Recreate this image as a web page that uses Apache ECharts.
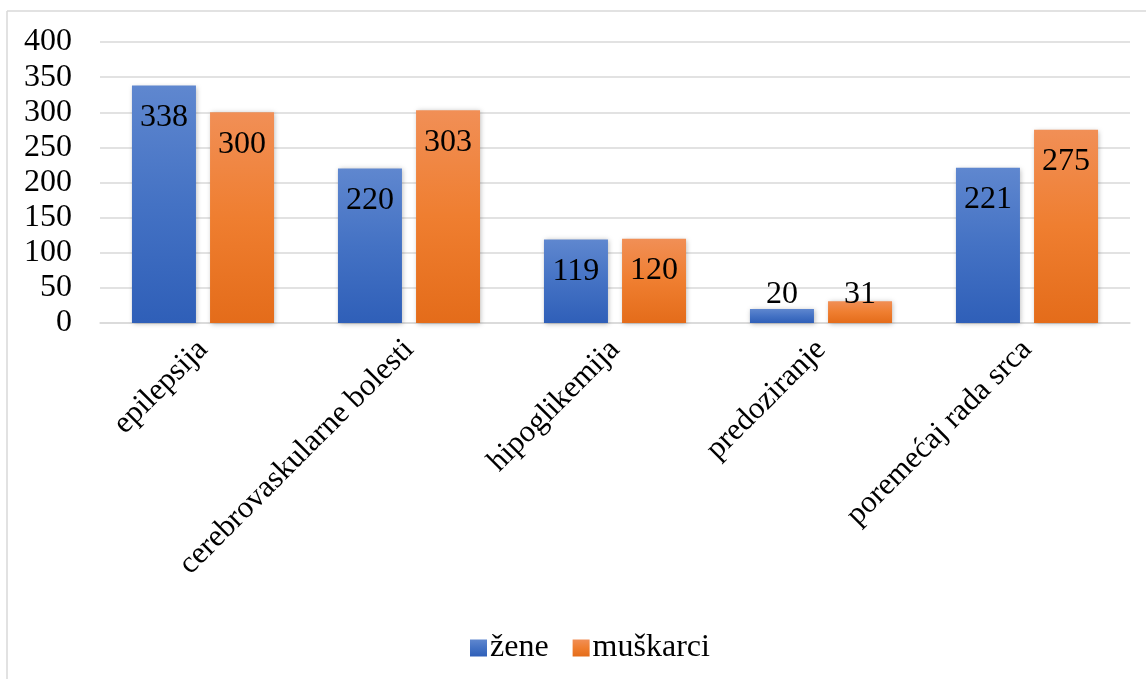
<!DOCTYPE html>
<html>
<head>
<meta charset="utf-8">
<script src="https://cdn.jsdelivr.net/npm/echarts@6/dist/echarts.min.js"></script>
<style>
  html, body { margin: 0; padding: 0; background: #ffffff; }
  #chart { width: 1146px; height: 679px; }
</style>
</head>
<body>
<div id="chart"></div>
<script>
// Cases by cause and sex
const categories = ['epilepsija', 'cerebrovaskularne bolesti', 'hipoglikemija', 'predoziranje', 'poremećaj rada srca'];
const zene = [338, 220, 119, 20, 221];
const muskarci = [300, 303, 120, 31, 275];
const yTicks = [0, 50, 100, 150, 200, 250, 300, 350, 400];

const FONT = '"Liberation Serif", "Times New Roman", serif';

function grad(top, mid, bottom) {
  return new echarts.graphic.LinearGradient(0, 0, 0, 1, [
    { offset: 0, color: top },
    { offset: 0.5, color: mid },
    { offset: 1, color: bottom }
  ]);
}

// Short bars: keep the value label resting just above the axis
function toData(values) {
  return values.map(v => v < 60
    ? { value: v, label: { position: 'insideBottom', distance: 12 } }
    : v);
}

const barShadow = {
  shadowBlur: 5,
  shadowColor: 'rgba(0,0,0,0.28)',
  shadowOffsetX: 1,
  shadowOffsetY: 1
};

const valueLabel = {
  show: true,
  position: 'insideTop',
  distance: 16,
  fontFamily: FONT,
  fontSize: 32,
  color: '#000000'
};

const chart = echarts.init(document.getElementById('chart'));
chart.setOption({
  animation: false,
  backgroundColor: '#ffffff',
  textStyle: { fontFamily: FONT },
  graphic: [
    // frame: top and left edges of the chart area
    { type: 'line', shape: { x1: 7, y1: 11, x2: 1146, y2: 11 }, style: { stroke: '#d9d9d9', lineWidth: 1.5 } },
    { type: 'line', shape: { x1: 7, y1: 11, x2: 7, y2: 679 }, style: { stroke: '#d9d9d9', lineWidth: 1.5 } }
  ],
  grid: { left: 100, right: 16, top: 42, bottom: 356, containLabel: false },
  legend: {
    left: 465,
    top: 627,
    itemWidth: 17,
    itemHeight: 17,
    itemGap: 24,
    icon: 'rect',
    textStyle: { fontFamily: FONT, fontSize: 32, color: '#000000', padding: [0, 0, 0, -2] },
    data: ['žene', 'muškarci']
  },
  xAxis: {
    type: 'category',
    data: categories,
    axisTick: { show: false },
    axisLine: { lineStyle: { color: '#d9d9d9', width: 1.5 } },
    axisLabel: {
      rotate: 45,
      interval: 0,
      margin: 22,
      fontFamily: FONT,
      fontSize: 31,
      color: '#000000'
    }
  },
  yAxis: {
    type: 'value',
    min: 0,
    max: 400,
    interval: 50,
    axisLine: { show: false },
    axisTick: { show: false },
    splitLine: { lineStyle: { color: '#d9d9d9', width: 1.5 } },
    axisLabel: {
      margin: 28,
      fontFamily: FONT,
      fontSize: 32,
      color: '#000000',
      formatter: v => (yTicks.indexOf(v) >= 0 ? String(v) : '')
    }
  },
  series: [
    {
      name: 'žene',
      type: 'bar',
      data: toData(zene),
      barWidth: 64,
      barGap: '22%',
      itemStyle: Object.assign({ color: grad('#5f87cf', '#4472c4', '#2f5fb8') }, barShadow),
      label: valueLabel
    },
    {
      name: 'muškarci',
      type: 'bar',
      data: toData(muskarci),
      barWidth: 64,
      barGap: '22%',
      itemStyle: Object.assign({ color: grad('#f18f56', '#ef7e30', '#e46c1a') }, barShadow),
      label: valueLabel
    }
  ]
});
</script>
</body>
</html>
